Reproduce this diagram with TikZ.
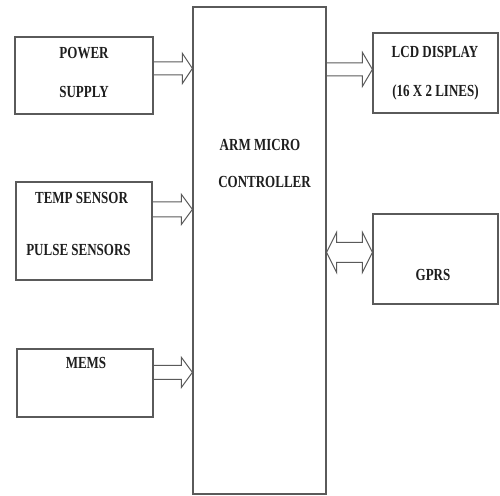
\documentclass[tikz,border=0pt]{standalone}
\usepackage{fontspec}
\setmainfont{Liberation Serif}
\usetikzlibrary{calc}
\definecolor{linegray}{HTML}{5A5A5A}
\definecolor{textdark}{HTML}{1E1E1E}
\newcommand{\tallt}[1]{\scalebox{1}[1.3]{#1}}
\newcommand{\fatarr}[5]{% #1 start (x), #2 tip, #3 shaft half, #4 head half, #5 head length
  \draw[arrowline] let \p1=(#1), \p2=(#2) in
    (\x1,\y2+#3) -- (\x2-#5,\y2+#3) -- (\x2-#5,\y2+#4) -- (\x2,\y2)
    -- (\x2-#5,\y2-#4) -- (\x2-#5,\y2-#3) -- (\x1,\y2-#3);}
\begin{document}
\begin{tikzpicture}[x=1pt,y=-1pt,
  box/.style={draw=linegray,line width=1.2pt,fill=white,inner sep=0pt},
  arrowline/.style={draw=linegray,line width=1pt,line join=miter},
  lbl/.style={text=textdark,font=\fontsize{13}{15}\selectfont\bfseries,inner sep=0pt}]
\useasboundingbox (0,0) rectangle (500,495);
% boxes
\node[box,minimum width=138pt,minimum height=77pt] (ps) at (84,75.5) {};
\node[box,minimum width=136pt,minimum height=98pt] (ts) at (84,231) {};
\node[box,minimum width=136pt,minimum height=68pt] (mems) at (85,383) {};
\node[box,minimum width=133pt,minimum height=487pt] (mc) at (259.5,250.5) {};
\node[box,minimum width=125pt,minimum height=80pt] (lcd) at (435.5,73) {};
\node[box,minimum width=125pt,minimum height=90pt] (gprs) at (435.5,259) {};
% texts
\node[lbl] (t1a) at (84,53) {\tallt{POWER}};
\node[lbl] (t1b) at (84,92) {\tallt{SUPPLY}};
\node[lbl] (t2a) at (81.5,198) {\tallt{TEMP SENSOR}};
\node[lbl] (t2b) at (78.5,250) {\tallt{PULSE SENSORS}};
\node[lbl] (t3) at (86,363) {\tallt{MEMS}};
\node[lbl] (t4a) at (260,145) {\tallt{ARM MICRO}};
\node[lbl] (t4b) at (264.5,182) {\tallt{CONTROLLER}};
\node[lbl] (t5a) at (435,52) {\tallt{LCD DISPLAY}};
\node[lbl] (t5b) at (435.5,92) {\tallt{(16 X 2 LINES)}};
\node[lbl] (t6) at (433,275) {\tallt{GPRS}};
% tip coordinates
\coordinate (c1) at ($(mc.north west)+(0,62)$);
\coordinate (c2) at ($(mc.north west)+(0,203)$);
\coordinate (c3) at ($(mc.north west)+(0,366)$);
\coordinate (c4) at ($(lcd.north west)+(0,37)$);
\coordinate (c5) at ($(gprs.north west)+(0,39)$);
% connectors
\fatarr{ps.east}{c1}{6.5}{15}{10}
\fatarr{ts.east}{c2}{7.5}{15}{11}
\fatarr{mems.east}{c3}{7}{15}{11}
\fatarr{mc.east}{c4}{6.5}{17}{10}
\draw[arrowline] let \p1=(mc.east |- c5), \p2=(c5) in
  (\x1,\y1) -- (\x1+10,\y1+20) -- (\x1+10,\y1+10) -- (\x2-10,\y2+10) -- (\x2-10,\y2+20)
  -- (\x2,\y2) -- (\x2-10,\y2-20) -- (\x2-10,\y2-10) -- (\x1+10,\y1-10) -- (\x1+10,\y1-20) -- cycle;
\end{tikzpicture}
\end{document}
